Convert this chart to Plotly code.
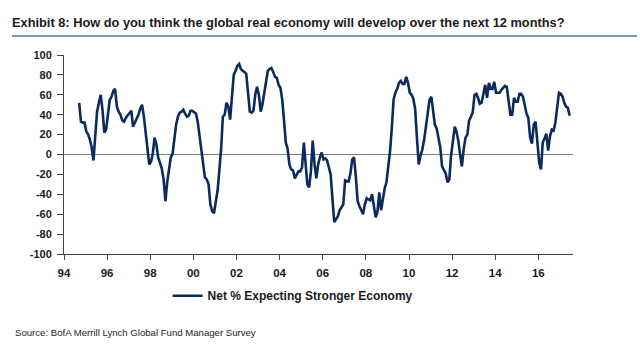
import plotly.graph_objects as go

# Net % of fund managers expecting a stronger global economy, monthly from Sep 1994
start_year, start_month = 1994, 9
values_1994_1998 = [52, 33, 32, 32, 23, 20, 15, 7, -6, 20, 43, 52, 60, 45, 22, 25, 38, 55, 58, 64,
                    66, 48, 43, 40, 34, 33, 37, 39, 42, 44, 28, 32, 36, 40, 46, 50, 38, 22, 4, -10,
                    -7, 2, 17, 10, -3, -9, -14, -25, -47, -28, -12, -3, 1, 15, 30, 38, 42, 43, 45, 41]
values_1999_2003 = [38, 39, 44, 44, 42, 41, 33, 20, 6, -8, -23, -25, -30, -50, -57, -59, -47, -36, -17, 5,
                    38, 40, 52, 48, 35, 55, 80, 84, 89, 91, 86, 84, 83, 81, 62, 43, 42, 44, 60, 68,
                    60, 43, 50, 62, 72, 84, 86, 87, 83, 78, 77, 70, 67, 55, 35, 12, 6, -10, -15, -16]
values_2004_2008 = [-24, -20, -17, -17, -13, 12, -8, -30, -33, -17, 14, -10, -24, -10, -3, 2, -5, -4, -6, -15,
                    -20, -45, -68, -65, -62, -56, -53, -50, -26, -27, -27, -19, -5, -3, -22, -47, -52, -57, -60, -50,
                    -44, -45, -46, -40, -52, -63, -58, -38, -56, -44, -34, -28, -13, 4, 26, 55, 62, 66, 72, 74]
values_2009_2013 = [71, 71, 78, 72, 62, 60, 56, 46, 17, -10, -1, 5, 15, 29, 42, 55, 58, 45, 30, 26,
                    15, 7, -12, -15, -19, -28, -25, -1, 16, 28, 23, 14, 0, -12, 5, 17, 20, 34, 38, 42,
                    60, 61, 57, 51, 52, 62, 70, 57, 72, 66, 66, 73, 62, 62, 62, 65, 67, 69, 68, 55]
values_2014_2017 = [40, 40, 57, 53, 53, 61, 61, 58, 48, 41, 37, 17, 11, 30, 33, 12, -8, -15, 12, 16,
                    21, 4, 18, 25, 24, 32, 50, 62, 61, 58, 52, 48, 47, 39]
values = values_1994_1998 + values_1999_2003 + values_2004_2008 + values_2009_2013 + values_2014_2017

dates = []
for i in range(len(values)):
    m = start_month - 1 + i
    dates.append(f"{start_year + m // 12}-{m % 12 + 1:02d}-15")

tick_years = list(range(1994, 2017, 2))
tick_vals = [f"{y}-01-01" for y in tick_years]
tick_text = [f"{y % 100:02d}" for y in tick_years]
y_ticks = list(range(-100, 101, 20))
y_tick_text = [str(v) for v in y_ticks]

series_name = "Net % Expecting Stronger Economy"
title_text = "Exhibit 8: How do you think the global real economy will develop over the next 12 months?"
source_text = "Source: BofA Merrill Lynch Global Fund Manager Survey"

FONT = "Liberation Sans, Arial, sans-serif"
NAVY = "#0b2b5e"
AXIS = "#444444"

fig = go.Figure()
fig.add_trace(go.Scatter(x=dates, y=values, mode="lines", name=series_name,
                         line=dict(color=NAVY, width=2.6)))

fig.update_layout(
    width=640, height=354,
    margin=dict(l=64, r=67, t=55, b=100),
    paper_bgcolor="white", plot_bgcolor="white",
    font=dict(family=FONT, color="#1a1a1a"),
    title=dict(text=title_text, x=12 / 640, xanchor="left", xref="container",
               y=1 - 23 / 354, yanchor="middle", yref="container",
               font=dict(size=12.8, family=FONT, color="#1a1a1a", weight="bold")),
    showlegend=True,
    legend=dict(orientation="h", x=0.45, xanchor="center", y=-0.21, yanchor="middle",
                font=dict(size=12, family=FONT, weight="bold", color="#1a1a1a"),
                itemwidth=30, bgcolor="rgba(0,0,0,0)"),
    xaxis=dict(type="date", range=["1994-01-01", "2017-08-10"],
               tickvals=tick_vals, ticktext=tick_text,
               showgrid=False, zeroline=False,
               showline=True, linecolor=AXIS, linewidth=1,
               ticks="outside", ticklen=5, tickcolor=AXIS,
               ticklabelstandoff=3,
               tickfont=dict(size=11.5, family=FONT, weight="bold", color="#1a1a1a")),
    yaxis=dict(range=[-100, 100], tickvals=y_ticks, ticktext=y_tick_text,
               showgrid=False, zeroline=True, zerolinecolor="#7f7f7f", zerolinewidth=1,
               showline=True, linecolor=AXIS, linewidth=1,
               ticks="outside", ticklen=6, tickcolor=AXIS,
               ticklabelstandoff=3,
               tickfont=dict(size=11, family=FONT, weight="bold", color="#1a1a1a")),
    shapes=[dict(type="line", xref="paper", yref="paper",
                 x0=(12 - 64) / 509, x1=(637 - 64) / 509,
                 y0=1 + (55 - 36) / 199, y1=1 + (55 - 36) / 199,
                 line=dict(color="#4a74a8", width=1.5))],
    annotations=[dict(text=source_text, xref="paper", yref="paper",
                      x=(13 - 64) / 509, y=(254 - 332) / 199,
                      xanchor="left", yanchor="middle", showarrow=False,
                      font=dict(size=9.6, family=FONT, color="#222222"))],
)

fig.write_html("out.html")
